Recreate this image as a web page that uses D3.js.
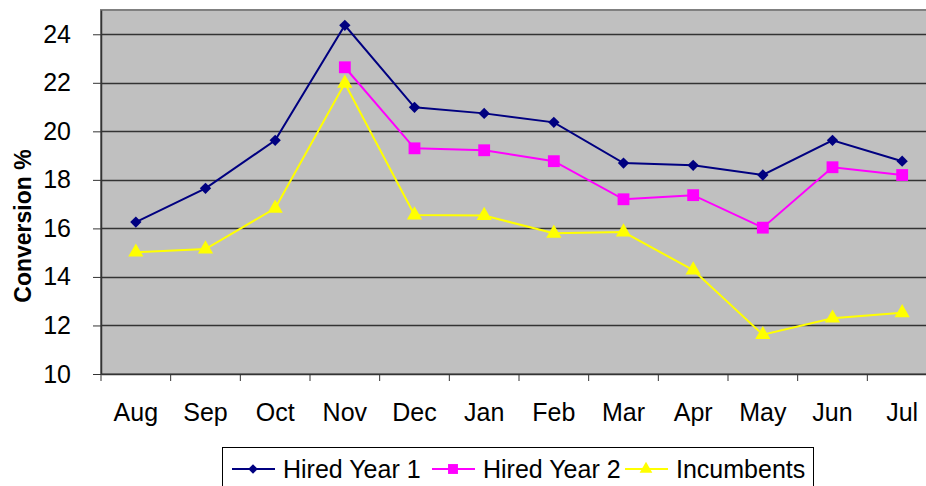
<!DOCTYPE html>
<html>
<head>
<meta charset="utf-8">
<script src="https://cdn.jsdelivr.net/npm/d3@7"></script>
<style>
  body { margin: 0; background: #fff; overflow: hidden; }
  text { font-family: "Liberation Sans", Arial, sans-serif; }
</style>
</head>
<body>
<div id="chart"></div>
<script>
// data
const months = ["Aug", "Sep", "Oct", "Nov", "Dec", "Jan", "Feb", "Mar", "Apr", "May", "Jun", "Jul"];
const hiredYear1 = [16.26, 17.65, 19.63, 24.37, 20.99, 20.74, 20.37, 18.69, 18.6, 18.2, 19.63, 18.77];
const hiredYear2 = [null, null, null, 22.64, 19.3, 19.22, 18.77, 17.2, 17.37, 16.03, 18.52, 18.2];
const incumbents = [15.02, 15.15, 16.83, 21.98, 16.55, 16.53, 15.8, 15.85, 14.28, 11.62, 12.3, 12.52];
const yTicks = [10, 12, 14, 16, 18, 20, 22, 24];

// square rotated 45deg = the excel style diamond
const series = [
  { name: "Hired Year 1", values: hiredYear1, color: "#000080", shape: d3.symbolSquare, size: 64, rot: 45 },
  { name: "Hired Year 2", values: hiredYear2, color: "#ff00ff", shape: d3.symbolSquare, size: 140, rot: 0 },
  { name: "Incumbents", values: incumbents, color: "#ffff00", shape: d3.symbolTriangle, size: 100, rot: 0 }
];

const svgWidth = 926;
const svgHeight = 486;
const margin = { top: 10, left: 101 };
const width = 836;   // plot runs past the right edge, like the original
const height = 364;

const svg = d3.select('#chart')
  .append('svg')
  .attr('width', svgWidth)
  .attr('height', svgHeight);

const g = svg.append('g')
  .attr('transform', `translate(${margin.left}, ${margin.top})`);

const x = d3.scaleBand()
  .domain(months)
  .range([0, width]);

const y = d3.scaleLinear()
  .domain([10, 25])
  .range([height, 0]);

// plot background
g.append('rect')
  .attr('width', width)
  .attr('height', height)
  .attr('fill', '#c0c0c0')
  .attr('stroke', '#808080')
  .attr('stroke-width', 2);

// gridlines
g.selectAll('.grid')
  .data(yTicks.filter(d => d > 10))
  .enter()
  .append('line')
  .attr('x1', 0)
  .attr('x2', width)
  .attr('y1', d => Math.round(y(d)) + 0.5)
  .attr('y2', d => Math.round(y(d)) + 0.5)
  .attr('stroke', '#333')
  .attr('stroke-width', 1.5);

// y axis
const yAxis = g.append('g')
  .call(d3.axisLeft(y).tickValues(yTicks).tickSize(8).tickSizeOuter(0).tickPadding(22));
yAxis.select('.domain').attr('stroke', '#333').attr('stroke-width', 1.5);
yAxis.selectAll('.tick line').attr('stroke', '#333');
yAxis.selectAll('.tick text').attr('font-size', '25px').attr('fill', '#000');

// x axis
const xAxis = g.append('g')
  .attr('transform', `translate(0,${height})`)
  .call(d3.axisBottom(x).tickSize(0).tickSizeOuter(0).tickPadding(29));
xAxis.select('.domain').attr('stroke', '#333').attr('stroke-width', 1.5);
xAxis.selectAll('.tick text').attr('font-size', '25px').attr('fill', '#000');
xAxis.selectAll('.cat-tick')
  .data(months)
  .enter()
  .append('line')
  .attr('x1', d => x(d))
  .attr('x2', d => x(d))
  .attr('y1', 0)
  .attr('y2', 7)
  .attr('stroke', '#333');

// axis title
svg.append('text')
  .attr('transform', 'translate(31, 226) rotate(-90)')
  .attr('text-anchor', 'middle')
  .attr('font-size', '23px')
  .attr('font-weight', 'bold')
  .text('Conversion %');

const line = d3.line()
  .defined(d => d != null)
  .x((d, i) => x(months[i]) + x.bandwidth() / 2)
  .y(d => y(d));

series.forEach(s => {
  g.append('path')
    .datum(s.values)
    .attr('fill', 'none')
    .attr('stroke', s.color)
    .attr('stroke-width', 2)
    .attr('d', line);

  g.selectAll(null)
    .data(s.values.map((v, i) => ({ v, m: months[i] })).filter(d => d.v != null))
    .enter()
    .append('path')
    .attr('d', d3.symbol().type(s.shape).size(s.size))
    .attr('transform', d => `translate(${x(d.m) + x.bandwidth() / 2},${y(d.v)}) rotate(${s.rot})`)
    .attr('fill', s.color);
});

// legend
const legend = svg.append('g').attr('transform', 'translate(222,447)');
legend.append('rect')
  .attr('x', 0.5)
  .attr('y', 0.5)
  .attr('width', 591)
  .attr('height', 50)
  .attr('fill', '#fff')
  .attr('stroke', '#000');

const legendX = [10, 210, 403];
series.forEach((s, i) => {
  const lg = legend.append('g').attr('transform', `translate(${legendX[i]},22)`);
  lg.append('line')
    .attr('x1', 0).attr('x2', 43)
    .attr('stroke', s.color)
    .attr('stroke-width', 2);
  lg.append('path')
    .attr('d', d3.symbol().type(s.shape).size(s.size * 0.7))
    .attr('transform', `translate(21,0) rotate(${s.rot})`)
    .attr('fill', s.color);
  lg.append('text')
    .attr('x', 51)
    .attr('y', 9)
    .attr('font-size', '25px')
    .text(s.name);
});
</script>
</body>
</html>
